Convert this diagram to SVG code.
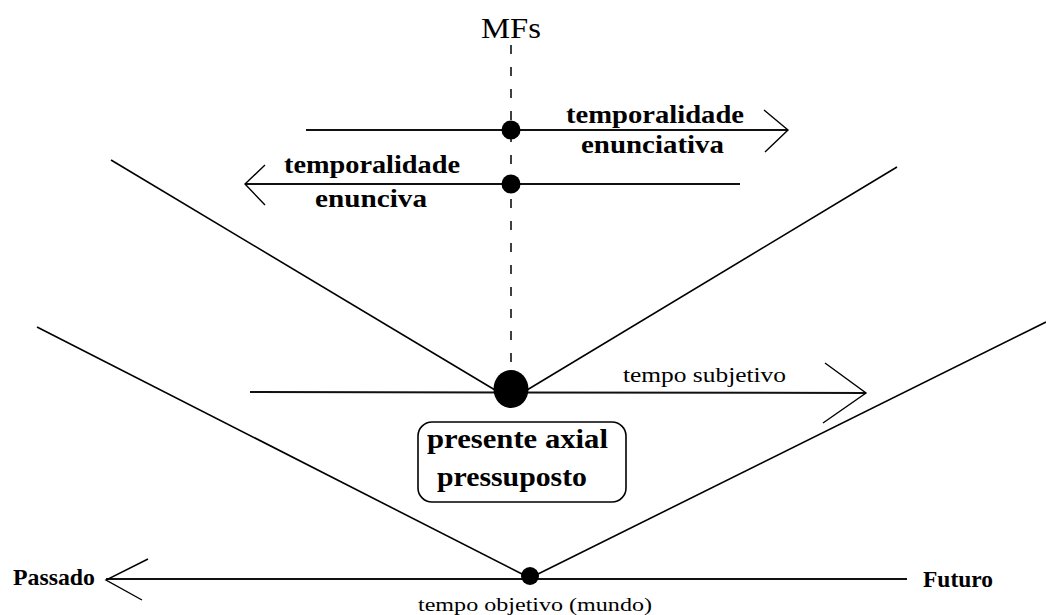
<svg xmlns="http://www.w3.org/2000/svg" width="1046" height="615" viewBox="0 0 1046 615">
<style>
.ln{stroke:#000;stroke-width:1.6;fill:none}
.hl{stroke:#111;stroke-width:2;fill:none}
.ar{stroke:#000;stroke-width:1.4;fill:none}
.dash{stroke:#000;stroke-width:1.5;stroke-dasharray:9 13;fill:none}
.dot{fill:#000}
.b{font-family:"Liberation Serif","Times New Roman",serif;font-weight:bold;fill:#000}
.r{font-family:"Liberation Serif","Times New Roman",serif;fill:#000}
</style>
<rect width="1046" height="615" fill="#fff"/>
<g id="connectors">
  <line class="dash" x1="511" y1="45" x2="511" y2="372"/>
  <line class="ln" x1="111" y1="160" x2="495" y2="390"/>
  <line class="ln" x1="527" y1="390" x2="897" y2="167"/>
  <line class="ln" x1="37" y1="327" x2="522" y2="574"/>
  <line class="ln" x1="538" y1="574" x2="1046" y2="322"/>
  <line class="hl" x1="306" y1="130" x2="788" y2="130"/>
  <polyline class="ar" points="764,110 788,130 765,152"/>
  <line class="hl" x1="245" y1="184" x2="740" y2="184"/>
  <polyline class="ar" points="265,165 245,184 265,205"/>
  <line class="hl" x1="250" y1="392" x2="866" y2="393"/>
  <polyline class="ar" points="825,363 866,393 823,423"/>
  <line class="hl" x1="106" y1="579" x2="907" y2="579"/>
  <polyline class="ar" points="148,559 106,580 142,600"/>
</g>
<g id="mfs"><text class="r" x="481" y="38" font-size="30" textLength="60" lengthAdjust="spacingAndGlyphs">MFs</text></g>
<g id="dot-enunciativa"><ellipse class="dot" cx="511" cy="130" rx="9.5" ry="9.5"/></g>
<g id="dot-enunciva"><ellipse class="dot" cx="511" cy="184" rx="9.5" ry="9.5"/></g>
<g id="label-enunciativa">
  <text class="b" x="566" y="123" font-size="26" textLength="178" lengthAdjust="spacingAndGlyphs">temporalidade</text>
  <text class="b" x="581" y="153" font-size="26" textLength="143" lengthAdjust="spacingAndGlyphs">enunciativa</text>
</g>
<g id="label-enunciva">
  <text class="b" x="284" y="173" font-size="26" textLength="176" lengthAdjust="spacingAndGlyphs">temporalidade</text>
  <text class="b" x="315" y="207" font-size="26" textLength="112" lengthAdjust="spacingAndGlyphs">enunciva</text>
</g>
<g id="presente-dot"><ellipse class="dot" cx="511" cy="389" rx="17.5" ry="19"/></g>
<g id="tempo-subjetivo"><text class="r" x="623" y="382" font-size="20" textLength="163" lengthAdjust="spacingAndGlyphs">tempo subjetivo</text></g>
<g id="presente-axial">
  <rect x="418" y="422" width="208" height="80" rx="14" ry="14" fill="#fff" stroke="#000" stroke-width="1.6"/>
  <text class="b" x="427" y="448" font-size="28" textLength="181" lengthAdjust="spacingAndGlyphs">presente axial</text>
  <text class="b" x="437" y="486" font-size="28" textLength="150" lengthAdjust="spacingAndGlyphs">pressuposto</text>
</g>
<g id="objetivo-dot"><circle class="dot" cx="530" cy="576" r="9"/></g>
<g id="passado"><text class="b" x="13" y="585" font-size="24" textLength="82" lengthAdjust="spacingAndGlyphs">Passado</text></g>
<g id="futuro"><text class="b" x="923" y="587" font-size="24" textLength="70" lengthAdjust="spacingAndGlyphs">Futuro</text></g>
<g id="tempo-objetivo"><text class="r" x="418" y="611" font-size="19" textLength="234" lengthAdjust="spacingAndGlyphs">tempo objetivo (mundo)</text></g>
</svg>
